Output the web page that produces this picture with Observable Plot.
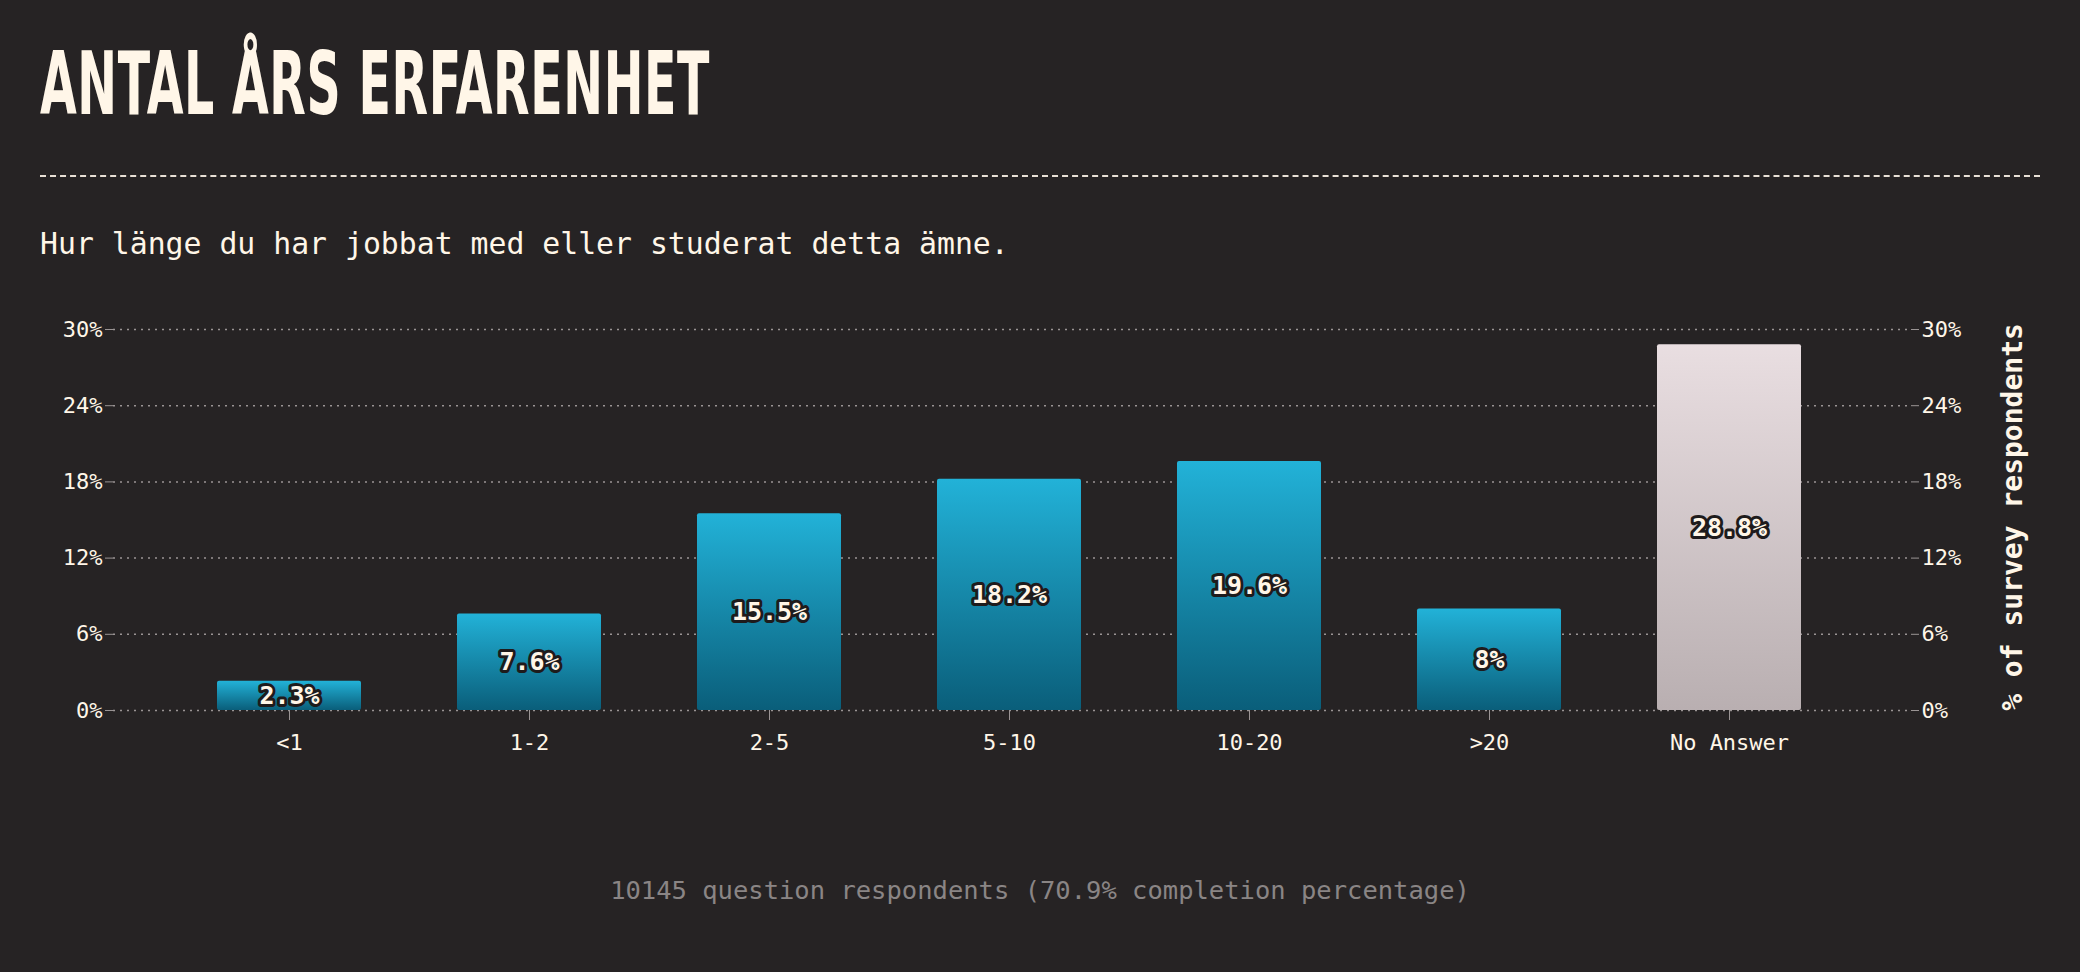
<!DOCTYPE html>
<html>
<head>
<meta charset="utf-8">
<script src="https://cdn.jsdelivr.net/npm/d3@7"></script>
<script src="https://cdn.jsdelivr.net/npm/@observablehq/plot@0.6"></script>
<style>
  body { margin: 0; background: #262324; width: 2080px; height: 972px; position: relative; overflow: hidden; }
  #title { position: absolute; left: 40px; top: 40px; color: #fff6e8; font-family: "Liberation Sans Narrow", "DejaVu Sans Condensed", sans-serif; font-weight: bold; font-size: 88px; letter-spacing: 1px; transform: scaleX(0.6); transform-origin: left; line-height: 1; }
  #rule { position: absolute; left: 40px; width: 2000px; top: 175px; border-top: 2px dashed #e8e0d6; }
  #sub { position: absolute; left: 40px; top: 226px; color: #fff6e8; font-family: "DejaVu Sans Mono", monospace; font-size: 29.8px; }
  #chart { position: absolute; left: 0; top: 300px; }
  #foot { position: absolute; left: 0; width: 2080px; top: 875px; text-align: center; color: #8a8585; font-family: "DejaVu Sans Mono", monospace; font-size: 25.5px; }
</style>
</head>
<body>
<div id="title">ANTAL ÅRS ERFARENHET</div>
<div id="rule"></div>
<div id="sub">Hur länge du har jobbat med eller studerat detta ämne.</div>
<div id="chart"></div>
<div id="foot">10145 question respondents (70.9% completion percentage)</div>
<script>
const categories = ['<1', '1-2', '2-5', '5-10', '10-20', '>20', 'No Answer']
const values = [2.3, 7.6, 15.5, 18.2, 19.6, 8, 28.8]
const yTicks = [0, 6, 12, 18, 24, 30]

const data = categories.map((c, i) => ({cat: c, v: values[i], na: c === 'No Answer'}))
const mono = '"DejaVu Sans Mono", monospace'

const chart = Plot.plot({
  width: 2080,
  height: 500,
  marginTop: 29,
  marginBottom: 90,
  marginLeft: 113,
  marginRight: 170,
  style: {background: 'transparent', color: '#fff6e8', fontFamily: mono, fontSize: '22px'},
  x: {domain: categories, padding: 0.4, insetLeft: 8, insetRight: 13, label: null},
  y: {domain: [0, 30], label: null},
  marks: [
    Plot.gridY(yTicks, {stroke: '#9a9494', strokeOpacity: 1, strokeDasharray: '2,5', strokeWidth: 1.5}),
    Plot.barY(data, {x: 'cat', y: 'v', fill: d => d.na ? 'url(#gNA)' : 'url(#gBlue)', rx: 2}),
    Plot.axisY(yTicks, {anchor: 'left', tickFormat: d => d + '%', tickSize: 8, stroke: '#9a9494', fill: '#fff6e8', fontSize: 22, label: null}),
    Plot.axisY(yTicks, {anchor: 'right', tickFormat: d => d + '%', tickSize: 8, stroke: '#9a9494', fill: '#fff6e8', fontSize: 22, label: null}),
    Plot.axisX({tickSize: 10, stroke: '#9a9494', fill: '#fff6e8', fontSize: 22, tickPadding: 14}),
    Plot.text(data, {x: 'cat', y: d => d.v / 2, text: d => d.v + '%', fill: '#fff6e8', stroke: '#1e1b1c', strokeWidth: 6, fontWeight: 'bold', fontSize: 25, fontFamily: mono})
  ]
})

const svg = d3.select(chart)
const defs = svg.insert('defs', ':first-child')
const grad = (id, top, bottom) => {
  const g = defs.append('linearGradient').attr('id', id).attr('x1', 0).attr('y1', 0).attr('x2', 0).attr('y2', 1)
  g.append('stop').attr('offset', '0%').attr('stop-color', top)
  g.append('stop').attr('offset', '100%').attr('stop-color', bottom)
}
grad('gBlue', '#22b2d8', '#0a5e7a')
grad('gNA', '#e9dee1', '#b9afb1')

svg.append('text')
  .attr('transform', 'translate(2022,217) rotate(-90)')
  .attr('text-anchor', 'middle')
  .attr('fill', '#fff6e8')
  .attr('font-family', mono)
  .attr('font-weight', 'bold')
  .attr('font-size', 28)
  .text('% of survey respondents')

d3.select('#chart').append(() => chart)
</script>
</body>
</html>
